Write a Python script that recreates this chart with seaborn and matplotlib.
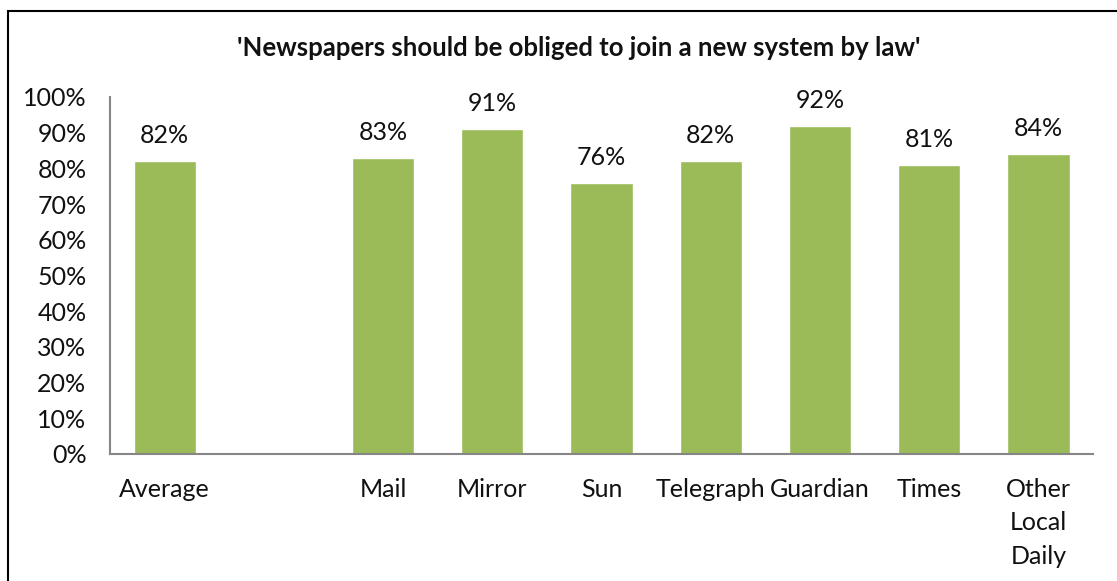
import matplotlib
matplotlib.use('Agg')
import matplotlib.pyplot as plt
import seaborn as sns
import pandas as pd
from matplotlib.patches import Rectangle

# data
papers = ['Average', 'Mail', 'Mirror', 'Sun', 'Telegraph', 'Guardian', 'Times', 'Other\nLocal\nDaily']
share = [82, 83, 91, 76, 82, 92, 81, 84]
# blank slot between Average and the papers
order = ['Average', ' ', 'Mail', 'Mirror', 'Sun', 'Telegraph', 'Guardian', 'Times', 'Other\nLocal\nDaily']
title = "'Newspapers should be obliged to join a new system by law'"

sns.set_theme(style='white')
plt.rcParams['font.family'] = ['Lato', 'DejaVu Sans']

df = pd.DataFrame({'paper': papers, 'share': share})

fig = plt.figure(figsize=(11.17, 5.81), dpi=100)
ax = fig.add_axes([0.0985, 0.2186, 0.88, 0.6145])

sns.barplot(data=df, x='paper', y='share', order=order, color='#9BBB59',
            saturation=1, width=0.57, ax=ax)

for c in ax.containers:
    ax.bar_label(c, fmt='%d%%', padding=10, fontsize=18, color='#111111')

ax.set_ylim(0, 100)
ax.set_xlim(-0.5, len(order) - 0.5)
ax.set_yticks(range(0, 101, 10))
ax.set_yticklabels([f'{v}%' for v in range(0, 101, 10)])
ax.tick_params(axis='both', length=0, labelsize=18, colors='#111111')
ax.tick_params(axis='x', pad=17)
ax.tick_params(axis='y', pad=17)
for lbl in ax.get_xticklabels():
    lbl.set_linespacing(1.55)
ax.set_xlabel('')
ax.set_ylabel('')
for s in ['top', 'right']:
    ax.spines[s].set_visible(False)
for s in ['left', 'bottom']:
    ax.spines[s].set_color('#868686')
    ax.spines[s].set_linewidth(1.5)

fig.text(0.518, 0.917, title, ha='center', va='center', fontsize=18.5, fontweight='bold', color='#111111')

# outer chart border
fig.patches.append(Rectangle((8 / 1117, -0.1), 1.2, 1 - 11 / 581 + 0.1, transform=fig.transFigure,
                             fill=False, edgecolor='black', linewidth=1.5))

fig.savefig('out.png', dpi=100)
